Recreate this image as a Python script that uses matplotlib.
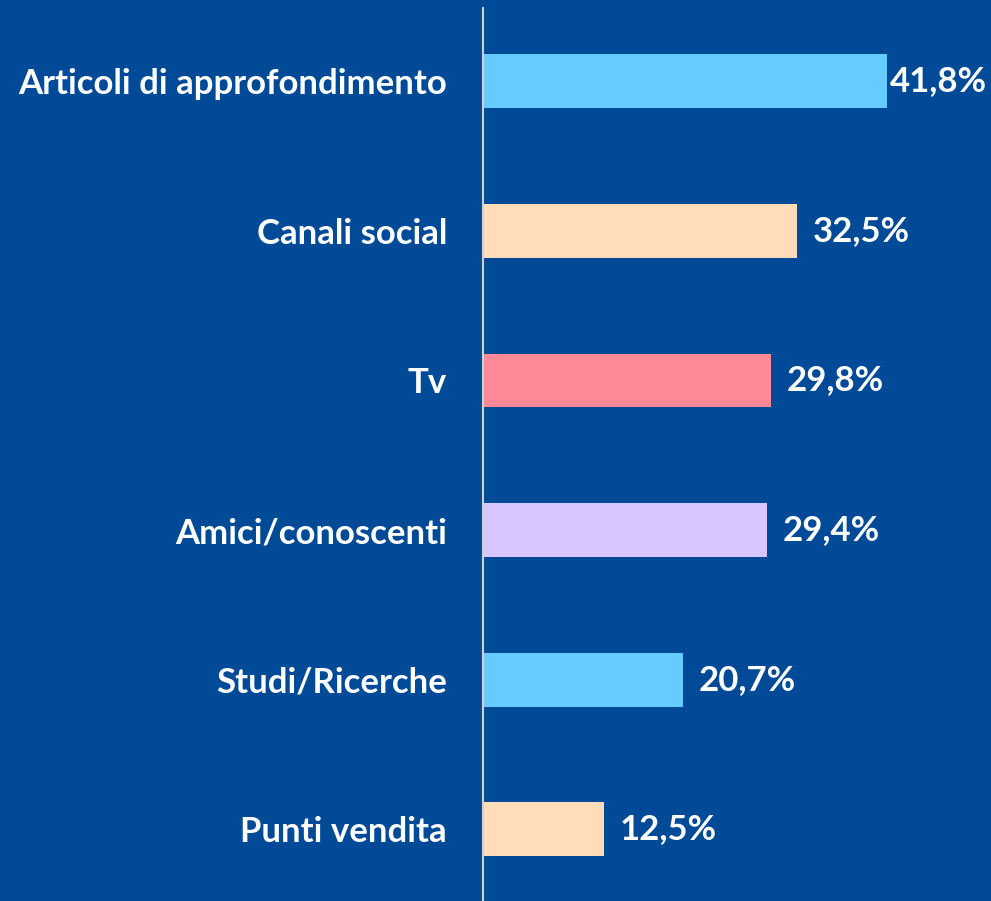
import matplotlib.pyplot as plt

categories = ["Articoli di approfondimento", "Canali social", "Tv",
              "Amici/conoscenti", "Studi/Ricerche", "Punti vendita"]
values = [41.8, 32.5, 29.8, 29.4, 20.7, 12.5]
bar_colors = ["#66CCFF", "#FFDDBB", "#FF8899", "#D9C6FF", "#66CCFF", "#FFDDBB"]

bg = "#004A98"
plt.rcParams['font.family'] = ['Lato', 'DejaVu Sans']

fig = plt.figure(figsize=(9.91, 9.01), dpi=100, facecolor=bg)
ax = fig.add_axes([483 / 991, 0, 483 / 991, 893 / 901])
ax.set_facecolor(bg)

pos = list(range(len(categories)))
ax.barh(pos, values, height=0.36, color=bar_colors)
ax.set_ylim(5.48, -0.49)
ax.set_xlim(0, 50)

ax.set_yticks(pos)
ax.set_yticklabels(categories, color='white', fontsize=25, fontweight='bold')
ax.tick_params(axis='y', length=0, pad=26)
ax.set_xticks([])
for s in ['top', 'right', 'bottom']:
    ax.spines[s].set_visible(False)
ax.spines['left'].set_color('#D0D0D0')
ax.spines['left'].set_linewidth(1.5)

# value labels; keep them inside the figure like the original
renderer = fig.canvas.get_renderer()
for p, v in zip(pos, values):
    t = ax.text(v, p, f"{v:.1f}%".replace(".", ","), va='center', ha='left',
                color='white', fontsize=25, fontweight='bold', clip_on=False)
    t.set_x(v)
    ext = t.get_window_extent(renderer)
    x0 = ax.transData.transform((v, p))[0] + 16
    x0 = min(x0, fig.bbox.width - 4 - ext.width)
    t.set_x(ax.transData.inverted().transform((x0, 0))[0])

fig.savefig("out.png", dpi=100, facecolor=bg)
